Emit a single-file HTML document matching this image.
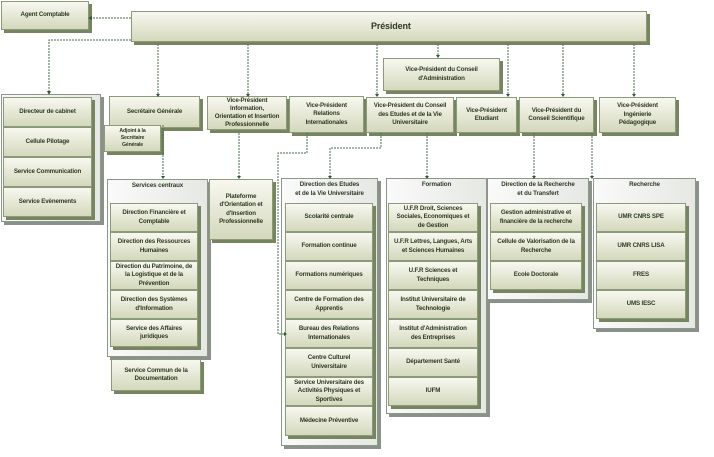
<!DOCTYPE html>
<html><head><meta charset="utf-8"><style>
body{margin:0;width:714px;height:457px;background:#fff;position:relative;overflow:hidden;font-family:"Liberation Sans",sans-serif}
.b{position:absolute;box-sizing:border-box;background:linear-gradient(#f8f8f0,#d4d8bc);border:1px solid #8c9a7c;box-shadow:3px 3px 0 #76845f;display:flex;align-items:center;justify-content:center;text-align:center;font-weight:bold;font-size:6.2px;letter-spacing:-0.15px;line-height:8.4px;color:#2e3a22;padding:0;white-space:nowrap}
.c{position:absolute;box-sizing:border-box;background:linear-gradient(90deg,#fafafa,#e6e8e4);border:1px solid #8d968a;box-shadow:3px 3px 0 #8a9188;font-weight:bold;font-size:6.2px;letter-spacing:-0.1px;line-height:8.6px;color:#2e3a22;text-align:center;padding-top:2px;white-space:nowrap}
svg{position:absolute;left:0;top:0}
</style></head><body>
<svg width="714" height="457" style="z-index:5">
<g stroke="#4d6e4d" stroke-width="1" stroke-dasharray="2,1" fill="none">
<path d="M131 18H90"/><path d="M131 40H49V92"/><path d="M158 44V95"/><path d="M248 44V95"/>
<path d="M377 44V95"/><path d="M438 44V57"/><path d="M508 44V95"/><path d="M563 44V95"/><path d="M634 44V95"/>
<path d="M163 125V177"/><path d="M239 133V177"/>
<path d="M307 133V153H278V334H285"/>
<path d="M381 133V148H330V177"/><path d="M427 133V177"/><path d="M534 133V177"/><path d="M592 133V177"/>
</g>
<g fill="#2f5a2f">
<path d="M88 18l4-2v4z"/><path d="M47 91h4l-2 4z"/><path d="M156 94h4l-2 3z"/><path d="M246 94h4l-2 3z"/>
<path d="M375 94h4l-2 3z"/><path d="M436 55h4l-2 3z"/><path d="M506 94h4l-2 3z"/><path d="M561 94h4l-2 3z"/><path d="M632 94h4l-2 3z"/>
<path d="M161 176h4l-2 3z"/><path d="M237 176h4l-2 3z"/><path d="M284 332v4l3-2z"/>
<path d="M328 176h4l-2 3z"/><path d="M425 176h4l-2 3z"/><path d="M532 176h4l-2 3z"/><path d="M590 176h4l-2 3z"/>
</g></svg>

<div class="b" style="left:1px;top:1px;width:88px;height:29px">Agent Comptable</div>
<div class="b" style="left:131px;top:11px;width:516px;height:31px;font-size:9px;justify-content:flex-start"><span style="margin-left:239px">Président</span></div>
<div class="b" style="left:383px;top:58px;width:117px;height:33px">Vice-Président du Conseil<br>d'Administration</div>

<div class="c" style="left:1px;top:94px;width:100px;height:128px"></div>
<div class="b" style="left:3px;top:97px;width:89px;height:30px">Directeur de cabinet</div>
<div class="b" style="left:3px;top:127px;width:89px;height:30px">Cellule Pilotage</div>
<div class="b" style="left:3px;top:157px;width:89px;height:30px">Service Communication</div>
<div class="b" style="left:3px;top:187px;width:89px;height:30px">Service Evènements</div>

<div class="b" style="left:109px;top:96px;width:91px;height:32px">Secrétaire Générale</div>
<div class="b" style="left:104px;top:125px;width:57px;height:27px;font-size:5.2px;line-height:7px">Adjoint à la<br>Secrétaire<br>Générale</div>
<div class="b" style="left:207px;top:96px;width:80px;height:34px;line-height:7.8px">Vice-Président<br>Information,<br>Orientation et Insertion<br>Professionnelle</div>
<div class="b" style="left:289px;top:96px;width:75px;height:37px">Vice-Président<br>Relations<br>Internationales</div>
<div class="b" style="left:366px;top:97px;width:88px;height:36px">Vice-Président du Conseil<br>des Etudes et de la Vie<br>Universitaire</div>
<div class="b" style="left:456px;top:97px;width:61px;height:36px">Vice-Président<br>Etudiant</div>
<div class="b" style="left:519px;top:97px;width:75px;height:36px">Vice-Président du<br>Conseil Scientifique</div>
<div class="b" style="left:599px;top:97px;width:77px;height:36px">Vice-Président<br>Ingénierie<br>Pédagogique</div>

<div class="c" style="left:107px;top:179px;width:101px;height:178px">Services centraux</div>
<div class="b" style="left:110px;top:203px;width:88px;height:29px">Direction Financière et<br>Comptable</div>
<div class="b" style="left:110px;top:232px;width:88px;height:29px">Direction des Ressources<br>Humaines</div>
<div class="b" style="left:110px;top:261px;width:88px;height:29px">Direction du Patrimoine, de<br>la Logistique et de la<br>Prévention</div>
<div class="b" style="left:110px;top:290px;width:88px;height:29px">Direction des Systèmes<br>d'Information</div>
<div class="b" style="left:110px;top:319px;width:88px;height:28px">Service des Affaires<br>juridiques</div>
<div class="b" style="left:111px;top:359px;width:90px;height:32px">Service Commun de la<br>Documentation</div>
<div class="b" style="left:209px;top:179px;width:64px;height:61px">Plateforme<br>d'Orientation et<br>d'Insertion<br>Professionnelle</div>

<div class="c" style="left:281px;top:178px;width:97px;height:268px">Direction des Etudes<br>et de la Vie Universitaire</div>
<div class="b" style="left:285px;top:203px;width:88px;height:29px">Scolarité centrale</div>
<div class="b" style="left:285px;top:232px;width:88px;height:29px">Formation continue</div>
<div class="b" style="left:285px;top:261px;width:88px;height:29px">Formations numériques</div>
<div class="b" style="left:285px;top:290px;width:88px;height:29px">Centre de Formation des<br>Apprentis</div>
<div class="b" style="left:285px;top:319px;width:88px;height:29px">Bureau des Relations<br>Internationales</div>
<div class="b" style="left:285px;top:348px;width:88px;height:29px">Centre Culturel<br>Universitaire</div>
<div class="b" style="left:285px;top:377px;width:88px;height:29px">Service Universitaire des<br>Activités Physiques et<br>Sportives</div>
<div class="b" style="left:285px;top:406px;width:88px;height:30px">Médecine Préventive</div>

<div class="c" style="left:386px;top:178px;width:101px;height:236px">Formation</div>
<div class="b" style="left:388px;top:203px;width:90px;height:29px">U.F.R Droit, Sciences<br>Sociales, Economiques et<br>de Gestion</div>
<div class="b" style="left:388px;top:232px;width:90px;height:29px">U.F.R Lettres, Langues, Arts<br>et Sciences Humaines</div>
<div class="b" style="left:388px;top:261px;width:90px;height:29px">U.F.R Sciences et<br>Techniques</div>
<div class="b" style="left:388px;top:290px;width:90px;height:29px">Institut Universitaire de<br>Technologie</div>
<div class="b" style="left:388px;top:319px;width:90px;height:29px">Institut d'Administration<br>des Entreprises</div>
<div class="b" style="left:388px;top:348px;width:90px;height:29px">Département Santé</div>
<div class="b" style="left:388px;top:377px;width:90px;height:29px">IUFM</div>

<div class="c" style="left:487px;top:178px;width:102px;height:122px">Direction de la Recherche<br>et du Transfert</div>
<div class="b" style="left:490px;top:203px;width:92px;height:29px">Gestion administrative et<br>financière de la recherche</div>
<div class="b" style="left:490px;top:232px;width:92px;height:29px">Cellule de Valorisation de la<br>Recherche</div>
<div class="b" style="left:490px;top:261px;width:92px;height:29px">Ecole Doctorale</div>

<div class="c" style="left:593px;top:178px;width:103px;height:151px">Recherche</div>
<div class="b" style="left:596px;top:203px;width:90px;height:29px">UMR CNRS SPE</div>
<div class="b" style="left:596px;top:232px;width:90px;height:29px">UMR CNRS LISA</div>
<div class="b" style="left:596px;top:261px;width:90px;height:29px">FRES</div>
<div class="b" style="left:596px;top:290px;width:90px;height:29px">UMS IESC</div>
</body></html>
